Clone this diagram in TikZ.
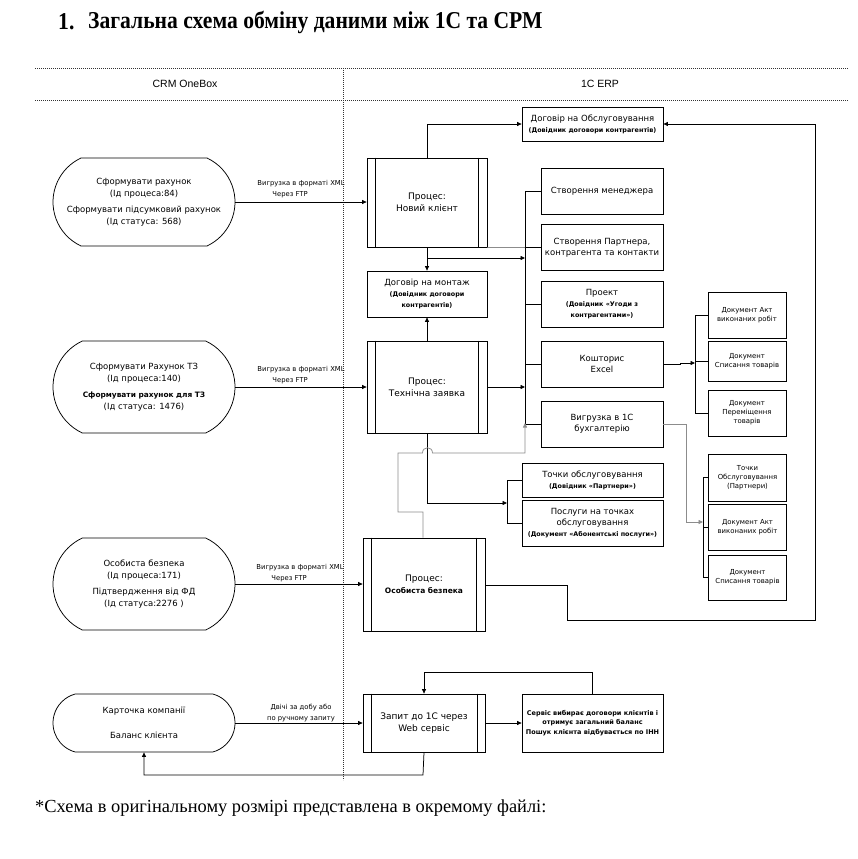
\documentclass[tikz,border=0pt]{standalone}
\usepackage{fontspec}
\setmainfont{DejaVu Sans}
\newfontfamily\seriffont{Liberation Serif}
\newfontfamily\headfont{Liberation Sans}
\usetikzlibrary{arrows.meta,shapes.misc}
\newcommand{\subt}{\fontsize{6.4}{8}\selectfont\bfseries}
\newcommand{\procbars}[2]{%
  \draw[ln] ([xshift=#2]#1.north west) -- ([xshift=#2]#1.south west);
  \draw[ln] ([xshift=-#2]#1.north east) -- ([xshift=-#2]#1.south east);}
\begin{document}
\begin{tikzpicture}[x=1pt,y=-1pt,
  ln/.style={line width=0.75pt,black},
  gln/.style={line width=0.75pt,black!45},
  arr/.style={-{Triangle[length=4.5pt,width=4pt]}},
  box/.style={draw,ln,align=center,inner sep=1pt,font=\fontsize{8.5}{11}\selectfont},
  smallbox/.style={box,minimum width=78pt,font=\fontsize{6.9}{9}\selectfont},
  proc/.style={box,font=\fontsize{9}{12}\selectfont},
  oval/.style={draw,ln,rounded rectangle,rounded rectangle arc length=130,minimum width=184pt,align=center,inner sep=1pt,font=\fontsize{8.5}{12}\selectfont},
  lab/.style={font=\fontsize{6.8}{10.5}\selectfont,align=left,inner sep=0pt},
  dots/.style={line width=0.7pt,dash pattern=on 0.7pt off 1.3pt,black!80}]
\useasboundingbox (0,0) rectangle (857,859);

% title and footer
\node[anchor=west,inner sep=0pt,font=\seriffont\bfseries\fontsize{21.6}{24}\selectfont,yscale=1.12] (tnum) at (58,22) {1.};
\node[anchor=west,inner sep=0pt,font=\seriffont\bfseries\fontsize{21.6}{24}\selectfont,yscale=1.12] (title) at (88,22) {Загальна схема обміну даними між 1С та СРМ};
\node[anchor=west,inner sep=0pt,font=\seriffont\fontsize{18.4}{22}\selectfont] (foot) at (35,808) {*Схема в оригінальному розмірі представлена в окремому файлі:};

% swimlane header
\draw[dots] (35,68) -- (848,68);
\draw[dots] (35,100) -- (848,100);
\draw[dots] (343,68) -- (343,780);
\node[font=\headfont\fontsize{10.5}{12}\selectfont] (hcrm) at (185,84) {CRM OneBox};
\node[font=\headfont\fontsize{10.5}{12}\selectfont] (herp) at (600,84) {1C ERP};

% CRM side ovals
\node[oval,minimum height=88pt] (o1) at (144,202) {Сформувати рахунок\\(Ід процеса:84)\\[4pt]Сформувати підсумковий рахунок\\(Ід статуса: 568)};
\node[oval,minimum height=92pt] (o2) at (144,387) {Сформувати Рахунок ТЗ\\(Ід процеса:140)\\[4pt]{\fontsize{7.4}{9}\selectfont\bfseries Сформувати рахунок для ТЗ}\\(Ід статуса: 1476)};
\node[oval,minimum height=92pt] (o3) at (144,584) {Особиста безпека\\(Ід процеса:171)\\[4pt]Підтвердження від ФД\\(Ід статуса:2276 )};
\node[oval,minimum height=58pt,rounded rectangle arc length=150] (o4) at (144,723) {Карточка компанії\\[13pt]Баланс клієнта};

% processes
\node[proc,minimum width=120pt,minimum height=89pt] (p1) at (427,202.5) {Процес:\\Новий клієнт};
\node[proc,minimum width=120pt,minimum height=92pt] (p2) at (427,387) {Процес:\\Технічна заявка};
\node[proc,minimum width=122pt,minimum height=93pt] (p3) at (424,584.5) {Процес:\\{\fontsize{7.5}{9}\selectfont\bfseries Особиста безпека}};
\node[proc,minimum width=122pt,minimum height=58pt] (p4) at (424,723) {Запит до 1С через\\Web сервіс};
\procbars{p1}{9pt}
\procbars{p2}{9pt}
\procbars{p3}{9pt}
\procbars{p4}{8.5pt}

% ERP boxes
\node[box,minimum width=141pt,minimum height=34pt] (dobsl) at (592.5,124) {Договір на Обслуговування\\{\subt (Довідник договори контрагентів)}};
\node[box,minimum width=122pt,minimum height=46pt] (mgr) at (602,191) {Створення менеджера};
\node[box,minimum width=122pt,minimum height=46pt] (partner) at (602,247.5) {Створення Партнера,\\контрагента та контакти};
\node[box,minimum width=122pt,minimum height=46pt] (proekt) at (602,304) {Проект\\{\subt (Довідник «Угоди з}\\{\subt контрагентами»)}};
\node[box,minimum width=122pt,minimum height=46pt] (kosh) at (602,364) {Кошторис\\Excel};
\node[box,minimum width=122pt,minimum height=46pt] (vygr) at (602,424) {Вигрузка в 1С\\бухгалтерію};
\node[box,minimum width=120pt,minimum height=46pt] (dogm) at (427,294) {Договір на монтаж\\{\subt (Довідник договори}\\{\subt контрагентів)}};
\node[box,minimum width=141pt,minimum height=34pt] (tochky) at (592.5,480) {Точки обслуговування\\{\subt (Довідник «Партнери»)}};
\node[box,minimum width=141pt,minimum height=46pt] (posl) at (592.5,523) {Послуги на точках\\обслуговування\\{\subt (Документ «Абонентські послуги»)}};
\node[box,minimum width=141pt,minimum height=58pt,font=\fontsize{6.5}{9.5}\selectfont\bfseries] (serv) at (592.5,723) {Сервіс вибирає договори клієнтів і\\отримує загальний баланс\\Пошук клієнта відбувається по ІНН};

\node[smallbox,minimum height=46pt] (akt1) at (747,315) {Документ Акт\\виконаних робіт};
\node[smallbox,minimum height=40pt] (spys1) at (747,361.5) {Документ\\Списання товарів};
\node[smallbox,minimum height=46pt] (perem) at (747,413) {Документ\\Переміщення\\товарів};
\node[smallbox,minimum height=47pt] (t2) at (747.5,477.5) {Точки\\Обслуговування\\(Партнери)};
\node[smallbox,minimum height=46pt] (akt2) at (747.5,527) {Документ Акт\\виконаних робіт};
\node[smallbox,minimum height=45pt] (spys2) at (747.5,577.5) {Документ\\Списання товарів};

% CRM -> process arrows with labels
\draw[ln,arr] (o1.east) -- (o1.east -| p1.west);
\node[lab] (l1) at (301,189) {Вигрузка в форматі XML\\\hspace*{15pt}Через FTP};
\draw[ln,arr] (o2.east) -- (o2.east -| p2.west);
\node[lab] (l2) at (301,375) {Вигрузка в форматі XML\\\hspace*{15pt}Через FTP};
\draw[ln,arr] (o3.east) -- (o3.east -| p3.west);
\node[lab] (l3) at (300,573) {Вигрузка в форматі XML\\\hspace*{15pt}Через FTP};
\draw[ln,arr] (o4.east) -- (o4.east -| p4.west);
\node[lab,align=center] (l4) at (301,713) {Двічі за добу або\\по ручному запиту};

% process 1
\draw[ln,arr] (p1.north) |- (dobsl.west);
\draw[ln,arr] (p1.south) -- (dogm.north);
\coordinate (bt) at (525,191);
\coordinate (bb) at (525,424);
\coordinate (bj) at (427,258);
\draw[ln,arr] (bj) -- (bj -| bt);
\draw[gln] (p1.south east) -- (partner.west);

% bus
\draw[ln] (bt) -- (bb);
\draw[ln] (bt) -- (mgr.west);
\draw[ln] (partner.west -| bt) -- (partner.west);
\draw[ln] (proekt.west -| bt) -- (proekt.west);
\draw[ln] (kosh.west -| bt) -- (kosh.west);
\draw[ln] (bb) -- (vygr.west);

% process 2
\draw[ln,arr] (p2.north) -- (dogm.south);
\draw[ln,arr] (p2.east) -- (p2.east -| bt);
\coordinate (br1) at (507,503);
\draw[ln,arr] (p2.south) |- (br1);
\draw[ln] (tochky.west -| br1) -- (posl.west -| br1);
\draw[ln] (tochky.west -| br1) -- (tochky.west);
\draw[ln] (posl.west -| br1) -- (posl.west);

% process 3 grey link into bus (with hop)
\coordinate (g1) at (423,512);
\coordinate (g2) at (398,512);
\coordinate (g3) at (398,453);
\coordinate (g4) at (525,453);
\draw[gln,arr] (p3.north -| g1) -- (g1) -- (g2) -- (g3) -- (422.5,453) .. controls (422.5,446) and (432.5,446) .. (432.5,453) -- (g4) -- ([yshift=1pt]bb);

% process 3 big loop to contract
\coordinate (q1) at (567,585);
\coordinate (q2) at (567,620);
\coordinate (q3) at (815,620);
\coordinate (q4) at (815,124);
\draw[ln,arr] (p3.east |- q1) -- (q1) -- (q2) -- (q3) -- (q4) -- (dobsl.east);

% estimate to documents
\coordinate (br2) at (695,363);
\draw[ln,arr] (kosh.east) -- (680,364) -- (680,363) -- (br2);
\draw[ln] (akt1.west -| br2) -- (perem.west -| br2);
\draw[ln] (akt1.west -| br2) -- (akt1.west);
\draw[ln] (spys1.west -| br2) -- (spys1.west);
\draw[ln] (perem.west -| br2) -- (perem.west);

% upload to documents
\coordinate (v1) at (686,424);
\coordinate (br3) at (703,522);
\draw[gln,arr] (vygr.east) -- (v1) |- (br3);
\draw[ln] (t2.west -| br3) -- (spys2.west -| br3);
\draw[ln] (t2.west -| br3) -- (t2.west);
\draw[ln] (akt2.west -| br3) -- (akt2.west);
\draw[ln] (spys2.west -| br3) -- (spys2.west);

% web service
\draw[ln,arr] (p4.east) -- (serv.west);
\coordinate (w1) at (592,672);
\draw[ln,arr] (serv.north -| w1) -- (w1) -| (p4.north);
\coordinate (w2) at (423,775);
\draw[ln,arr] (p4.south) -- (w2) -| (o4.south);
\end{tikzpicture}
\end{document}
